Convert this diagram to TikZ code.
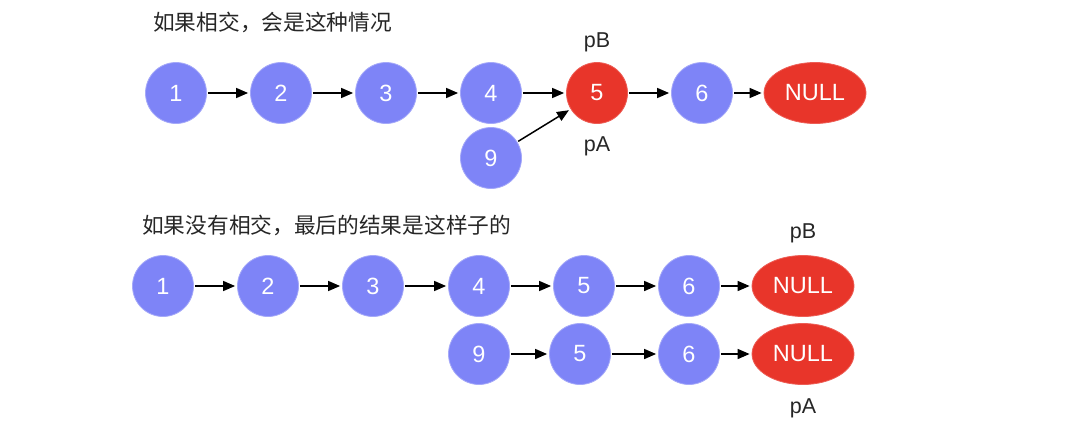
\documentclass[tikz,border=0pt]{standalone}
\usepackage{fontspec}
\setmainfont{Liberation Sans}
\newfontfamily\cjk{Noto Sans CJK SC}
\usetikzlibrary{shapes.geometric,arrows.meta}
\definecolor{nodeblue}{HTML}{7E84F7}
\definecolor{nodered}{HTML}{E8352A}
\tikzset{
  x=1pt,y=-1pt,
  lnode/.style={circle,fill=nodeblue,draw=nodeblue!70!white,line width=0.8pt,minimum size=61pt,inner sep=0pt,text=white,font=\fontsize{23.5}{26}\selectfont},
  rnode/.style={lnode,fill=nodered,draw=nodered!80!white},
  nullnode/.style={ellipse,fill=nodered,draw=nodered!80!white,line width=0.8pt,minimum width=102pt,minimum height=61pt,inner sep=0pt,text=white,font=\fontsize{23.5}{26}\selectfont},
  lbl/.style={font=\fontsize{21.5}{24}\selectfont,text=black!85},
  captxt/.style={font=\cjk\fontsize{21.7}{24}\selectfont,text=black!85,anchor=west,inner sep=0pt},
  link/.style={-{Triangle[length=12pt,width=10pt]},line width=1.5pt,shorten >=2pt,shorten <=1pt}
}
\begin{document}
\begin{tikzpicture}
\useasboundingbox (0,0) rectangle (1076,424);
\node[captxt] (t1) at (153,22) {如果相交，会是这种情况};
\node[lnode] (a1) at (176,93) {1};
\node[lnode] (a2) at (281,93) {2};
\node[lnode] (a3) at (386,93) {3};
\node[lnode] (a4) at (491,93) {4};
\node[rnode] (a5) at (597,93) {5};
\node[lnode] (a6) at (702,93) {6};
\node[nullnode] (an) at (815,93) {NULL};
\node[lnode] (a9) at (491,158) {9};
\node[lbl] (apb) at (597,42) {pB};
\node[lbl] (apa) at (597,146) {pA};
\draw[link] (a1) -- (a2);
\draw[link] (a2) -- (a3);
\draw[link] (a3) -- (a4);
\draw[link] (a4) -- (a5);
\draw[link] (a5) -- (a6);
\draw[link] (a6) -- (an);
\draw[link] (a9) -- (a5);

\node[captxt] (t2) at (142,225) {如果没有相交，最后的结果是这样子的};
\node[lnode] (b1) at (163,286) {1};
\node[lnode] (b2) at (268,286) {2};
\node[lnode] (b3) at (373,286) {3};
\node[lnode] (b4) at (479,286) {4};
\node[lnode] (b5) at (584,286) {5};
\node[lnode] (b6) at (689,286) {6};
\node[nullnode] (bn) at (803,286) {NULL};
\node[lnode] (c9) at (479,354) {9};
\node[lnode] (c5) at (580,354) {5};
\node[lnode] (c6) at (689,354) {6};
\node[nullnode] (cn) at (803,354) {NULL};
\node[lbl] (bpb) at (803,233) {pB};
\node[lbl] (cpa) at (803,408) {pA};
\draw[link] (b1) -- (b2);
\draw[link] (b2) -- (b3);
\draw[link] (b3) -- (b4);
\draw[link] (b4) -- (b5);
\draw[link] (b5) -- (b6);
\draw[link] (b6) -- (bn);
\draw[link] (c9) -- (c5);
\draw[link] (c5) -- (c6);
\draw[link] (c6) -- (cn);
\end{tikzpicture}
\end{document}
